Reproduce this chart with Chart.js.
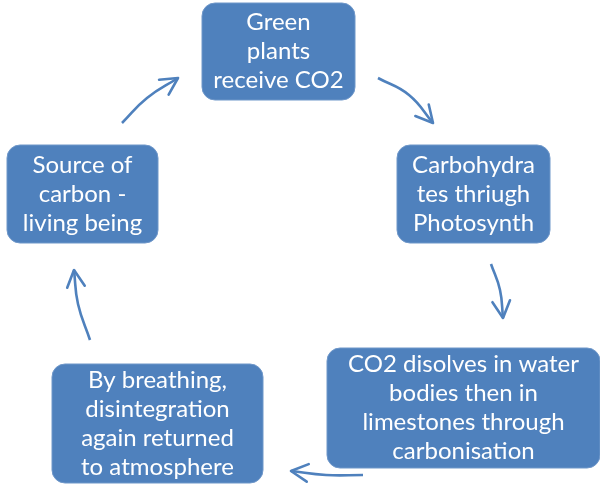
<!DOCTYPE html>
<html>
<head>
<meta charset="utf-8">
<script src="https://cdn.jsdelivr.net/npm/chart.js@4.4.1/dist/chart.umd.min.js"></script>
<style>
  html, body { margin: 0; padding: 0; background: #ffffff; }
  #wrap { width: 600px; height: 485px; }
</style>
</head>
<body>
<div id="wrap"><canvas id="cycle" width="600" height="485"></canvas></div>
<script>
// Steps of the carbon cycle (text lines of each box)
const steps = [
  ['Green', 'plants', 'receive CO2'],
  ['Carbohydra', 'tes thriugh', 'Photosynth'],
  ['Source of', 'carbon -', 'living being'],
  ['CO2 disolves in water', 'bodies then in', 'limestones through', 'carbonisation'],
  ['By breathing,', 'disintegration', 'again returned', 'to atmosphere']
];
// box centres in diagram units (x 0..600, y 0..485 top-down)
const stepX = [278.5, 473.5, 82.5, 463.5, 157.5];
const stepY = [51.5, 194, 194, 408, 423.5];

// arrows: start, a point on the curve, end
const arrowStart = [[122, 123], [378, 78], [491, 264], [363, 475], [90, 340]];
const arrowMid   = [[147, 98],  [409, 95], [500, 290], [326, 475], [78, 304]];
const arrowEnd   = [[178, 78],  [433, 123], [503, 318], [291, 471], [74, 270]];

// look
const BLUE = '#4f81bd';
const boxW = [153, 153, 151, 273, 211];
const boxH = [97, 98, 98, 120, 119];
const lineH = 29;
const FONT = '24px Lato, "Open Sans", sans-serif';

const arrowSets = arrowStart.map((s, i) => ({
  type: 'line',
  data: [
    { x: s[0], y: s[1] },
    { x: arrowMid[i][0], y: arrowMid[i][1] },
    { x: arrowEnd[i][0], y: arrowEnd[i][1] }
  ],
  borderColor: BLUE,
  borderWidth: 2.6,
  tension: 0.45,
  pointRadius: 0,
  fill: false,
  isArrow: true
}));

const boxSet = {
  type: 'scatter',
  data: stepX.map((x, i) => ({ x: x, y: stepY[i] })),
  pointRadius: 0,
  isBox: true
};

// draws the boxes with their text and the arrow heads
const cyclePlugin = {
  id: 'cycle',
  afterDatasetsDraw(chart) {
    const ctx = chart.ctx;
    chart.data.datasets.forEach((ds, di) => {
      const meta = chart.getDatasetMeta(di);
      if (ds.isArrow) {
        const pts = meta.data;
        const end = pts[pts.length - 1];
        const cx = end.cp1x !== undefined ? end.cp1x : pts[pts.length - 2].x;
        const cy = end.cp1y !== undefined ? end.cp1y : pts[pts.length - 2].y;
        const ang = Math.atan2(end.y - cy, end.x - cx);
        const len = 19, spread = Math.PI / 6.5;
        ctx.save();
        ctx.strokeStyle = BLUE;
        ctx.lineWidth = 2.6;
        ctx.lineCap = 'round';
        ctx.lineJoin = 'round';
        ctx.beginPath();
        ctx.moveTo(end.x - len * Math.cos(ang - spread), end.y - len * Math.sin(ang - spread));
        ctx.lineTo(end.x, end.y);
        ctx.lineTo(end.x - len * Math.cos(ang + spread), end.y - len * Math.sin(ang + spread));
        ctx.stroke();
        ctx.restore();
      }
      if (ds.isBox) {
        meta.data.forEach((pt, i) => {
          const w = boxW[i], h = boxH[i];
          ctx.save();
          ctx.beginPath();
          ctx.roundRect(pt.x - w / 2, pt.y - h / 2, w, h, 13);
          ctx.fillStyle = BLUE;
          ctx.fill();
          ctx.strokeStyle = '#6f97c9';
          ctx.lineWidth = 1;
          ctx.stroke();
          ctx.fillStyle = '#ffffff';
          ctx.font = FONT;
          ctx.textAlign = 'center';
          ctx.textBaseline = 'middle';
          const lines = steps[i];
          const top = pt.y - (lines.length - 1) * lineH / 2;
          lines.forEach((t, k) => ctx.fillText(t, pt.x, top + k * lineH));
          ctx.restore();
        });
      }
    });
  }
};

new Chart(document.getElementById('cycle'), {
  type: 'scatter',
  data: { datasets: [...arrowSets, boxSet] },
  options: {
    responsive: false,
    animation: false,
    layout: { padding: 0 },
    scales: {
      x: { type: 'linear', min: 0, max: 600, display: false },
      y: { type: 'linear', min: 0, max: 485, reverse: true, display: false }
    },
    plugins: { legend: { display: false }, tooltip: { enabled: false } },
    clip: false
  },
  plugins: [cyclePlugin]
});
</script>
</body>
</html>
